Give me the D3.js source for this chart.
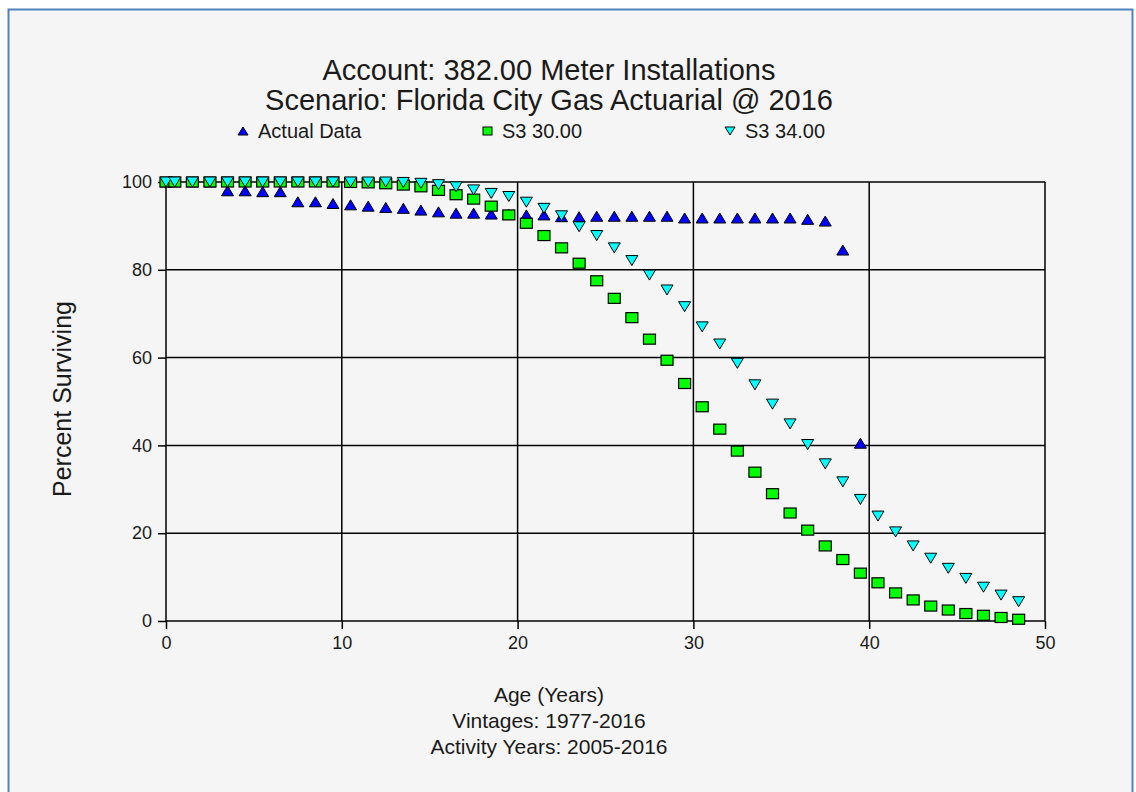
<!DOCTYPE html>
<html>
<head>
<meta charset="utf-8">
<script src="https://cdn.jsdelivr.net/npm/d3@7"></script>
<style>
  body { margin: 0; background: #ffffff; }
  text { font-family: "Liberation Sans", Arial, sans-serif; fill: #1a1a1a; }
</style>
</head>
<body>
<div id="chart"></div>
<script>
// data
const titleLines = ["Account: 382.00 Meter Installations", "Scenario: Florida City Gas Actuarial @ 2016"]
const footLines = ["Age (Years)", "Vintages: 1977-2016", "Activity Years: 2005-2016"]
const seriesNames = ["Actual Data", "S3 30.00", "S3 34.00"]

const ages = [0, 0.5, 1.5, 2.5, 3.5, 4.5, 5.5, 6.5, 7.5, 8.5, 9.5, 10.5, 11.5, 12.5, 13.5, 14.5,
  15.5, 16.5, 17.5, 18.5, 19.5, 20.5, 21.5, 22.5, 23.5, 24.5, 25.5, 26.5, 27.5, 28.5, 29.5,
  30.5, 31.5, 32.5, 33.5, 34.5, 35.5, 36.5, 37.5, 38.5, 39.5, 40.5, 41.5, 42.5, 43.5, 44.5,
  45.5, 46.5, 47.5, 48.5]

const actualData = [100, 100, 100, 100, 98.0, 98.0, 97.8, 97.8, 95.5, 95.5, 95.1, 94.8, 94.5, 94.2,
  94.0, 93.6, 93.2, 92.9, 92.9, 92.7, 92.6, 92.5, 92.5, 92.1, 92.1, 92.2, 92.2, 92.2, 92.2,
  92.2, 91.8, 91.8, 91.8, 91.8, 91.8, 91.8, 91.8, 91.5, 91.1, 84.5, 40.5]

const s3_30 = [100, 100, 100, 100, 100, 100, 100, 100, 100, 100, 100, 99.9, 99.8, 99.6, 99.3, 98.9,
  98.1, 97.1, 96.1, 94.5, 92.5, 90.6, 87.8, 85.0, 81.5, 77.5, 73.5, 69.1, 64.2, 59.4, 54.1,
  48.8, 43.7, 38.7, 33.9, 29.0, 24.6, 20.7, 17.1, 14.0, 10.9, 8.7, 6.4, 4.8, 3.4, 2.5,
  1.7, 1.3, 0.8, 0.4]

const s3_34 = [100, 100, 100, 100, 100, 100, 100, 100, 100, 100, 100, 100, 100, 100, 99.9, 99.7,
  99.4, 98.9, 98.2, 97.4, 96.7, 95.4, 94.0, 92.3, 89.8, 87.8, 85.0, 82.1, 78.8, 75.4, 71.6,
  67.0, 63.1, 58.7, 53.8, 49.4, 44.9, 40.2, 35.8, 31.7, 27.7, 23.9, 20.3, 17.1, 14.3, 12.0,
  9.7, 7.7, 5.9, 4.4]

const xTicks = [0, 10, 20, 30, 40, 50]
const yTicks = [0, 20, 40, 60, 80, 100]

// setup
const width = 1136
const height = 792
const plot = { left: 166, right: 1045, top: 182, bottom: 621 }

const svg = d3.select("#chart").append("svg").attr("width", width).attr("height", height)

svg.append("rect").attr("x", 8.5).attr("y", 9.5).attr("width", 1124).attr("height", 800)
  .attr("fill", "#f5f5f5").attr("stroke", "#4f81bd").attr("stroke-width", 2)

const x = d3.scaleLinear().domain([0, 50]).range([plot.left, plot.right])
const y = d3.scaleLinear().domain([0, 100]).range([plot.bottom, plot.top])

// grid
const grid = svg.append("g")
grid.selectAll(".vg").data(xTicks).enter().append("line")
  .attr("x1", d => x(d)).attr("x2", d => x(d)).attr("y1", plot.top).attr("y2", plot.bottom)
  .attr("stroke", "#000").attr("stroke-width", 1.5)
grid.selectAll(".hg").data(yTicks).enter().append("line")
  .attr("x1", plot.left).attr("x2", plot.right).attr("y1", d => y(d)).attr("y2", d => y(d))
  .attr("stroke", "#000").attr("stroke-width", 1.5)

// axes
const xAxis = d3.axisBottom(x).tickValues(xTicks).tickSize(8).tickPadding(7)
const yAxis = d3.axisLeft(y).tickValues(yTicks).tickSize(8).tickPadding(6)
svg.append("g").attr("transform", `translate(0, ${plot.bottom})`).call(xAxis)
svg.append("g").attr("transform", `translate(${plot.left}, 0)`).call(yAxis)
svg.selectAll(".domain").remove()
svg.selectAll(".tick line").attr("stroke", "#000").attr("stroke-width", 1.5)
svg.selectAll(".tick text").style("font-family", "'Liberation Sans', Arial, sans-serif")
  .style("font-size", "18px").attr("fill", "#1a1a1a")

// markers
function drawSeries(vals, kind, fill) {
  const g = svg.append("g")
  const pts = vals.map((v, i) => ({ age: ages[i], v: v }))
  if (kind === "up") {
    g.selectAll("path").data(pts).enter().append("path")
      .attr("d", "M0,-5L6,5L-6,5Z")
      .attr("transform", d => `translate(${x(d.age)},${y(d.v)})`)
      .attr("fill", fill).attr("stroke", "#000").attr("stroke-width", 1)
  } else if (kind === "down") {
    g.selectAll("path").data(pts).enter().append("path")
      .attr("d", "M-6,-5L6,-5L0,5Z")
      .attr("transform", d => `translate(${x(d.age)},${y(d.v)})`)
      .attr("fill", fill).attr("stroke", "#000").attr("stroke-width", 1)
  } else {
    g.selectAll("rect").data(pts).enter().append("rect")
      .attr("x", d => x(d.age) - 6).attr("y", d => y(d.v) - 5)
      .attr("width", 12).attr("height", 10)
      .attr("fill", fill).attr("stroke", "#000").attr("stroke-width", 1.2)
  }
}
drawSeries(actualData, "up", "#0000ff")
drawSeries(s3_30, "sq", "#00ff00")
drawSeries(s3_34, "down", "#00ffff")

// titles
svg.selectAll(".title").data(titleLines).enter().append("text")
  .attr("x", 549).attr("y", (d, i) => 80 + i * 30)
  .attr("text-anchor", "middle").style("font-size", "29px").text(d => d)

// legend
const legendX = [243, 487, 730]
const legendKinds = ["up", "sq", "down"]
const legendFills = ["#0000ff", "#00ff00", "#00ffff"]
const legend = svg.append("g")
seriesNames.forEach((name, i) => {
  const lx = legendX[i], ly = 131
  if (legendKinds[i] === "up") legend.append("path").attr("d", "M0,-4L5,4L-5,4Z")
    .attr("transform", `translate(${lx},${ly})`).attr("fill", legendFills[i]).attr("stroke", "#000")
  else if (legendKinds[i] === "down") legend.append("path").attr("d", "M-5,-4L5,-4L0,4Z")
    .attr("transform", `translate(${lx},${ly})`).attr("fill", legendFills[i]).attr("stroke", "#000")
  else legend.append("rect").attr("x", lx - 4).attr("y", ly - 4).attr("width", 9).attr("height", 8)
    .attr("fill", legendFills[i]).attr("stroke", "#000")
  legend.append("text").attr("x", lx + 15).attr("y", ly + 7).style("font-size", "20px").text(name)
})

// y label
svg.append("text").attr("transform", "translate(71, 399) rotate(-90)")
  .attr("text-anchor", "middle").style("font-size", "25px").text("Percent Surviving")

// footer
svg.selectAll(".foot").data(footLines).enter().append("text")
  .attr("x", 549).attr("y", (d, i) => 702 + i * 26)
  .attr("text-anchor", "middle").style("font-size", "21px").text(d => d)
</script>
</body>
</html>
